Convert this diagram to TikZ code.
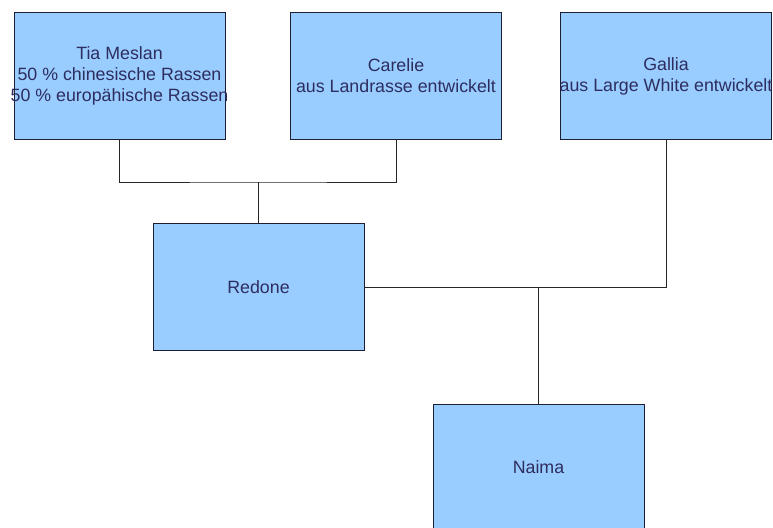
\documentclass[tikz,border=0pt]{standalone}
\usepackage{fontspec}
\setmainfont{Liberation Sans}
\usepackage{tikz}
\definecolor{boxfill}{RGB}{153,204,255}
\definecolor{boxline}{RGB}{30,30,50}
\definecolor{textnavy}{RGB}{45,45,95}

\tikzset{
  pig/.style={draw=boxline, fill=boxfill, minimum width=211pt, minimum height=127pt, inner sep=0pt},
  pigname/.style={text=textnavy, font=\fontsize{17.8}{21}\selectfont, align=center},
  link/.style={draw=black!85, line width=0.8pt}
}

\begin{document}
\begin{tikzpicture}[x=1pt,y=-1pt]
      \useasboundingbox (0,0) rectangle (773,527);

      \node[pig, label={[pigname]center:Tia Meslan\\50 \% chinesische Rassen\\50 \% europähische Rassen}] (tia) at (119.5,76) {};
      \node[pig, label={[pigname]center:Carelie\\aus Landrasse entwickelt}] (carelie) at (396,76) {};
      \node[pig, label={[pigname]center:Gallia\\aus Large White entwickelt}] (gallia) at (666,76) {};
      \node[pig, label={[pigname]center:Redone}] (redone) at (258.5,287) {};
      \node[pig, label={[pigname]center:Naima}] (naima) at (538.5,467.5) {};

      \coordinate (tc) at (258.5,182);
      \coordinate (rg) at (538.5,287);

      \draw[link] (tia.south) |- (tc) -| (carelie.south);
      \draw[link] (tc) -- (redone.north);
      \draw[link] (redone.east) -| (gallia.south);
      \draw[link] (rg) -- (naima.north);
    \end{tikzpicture}
\end{document}
